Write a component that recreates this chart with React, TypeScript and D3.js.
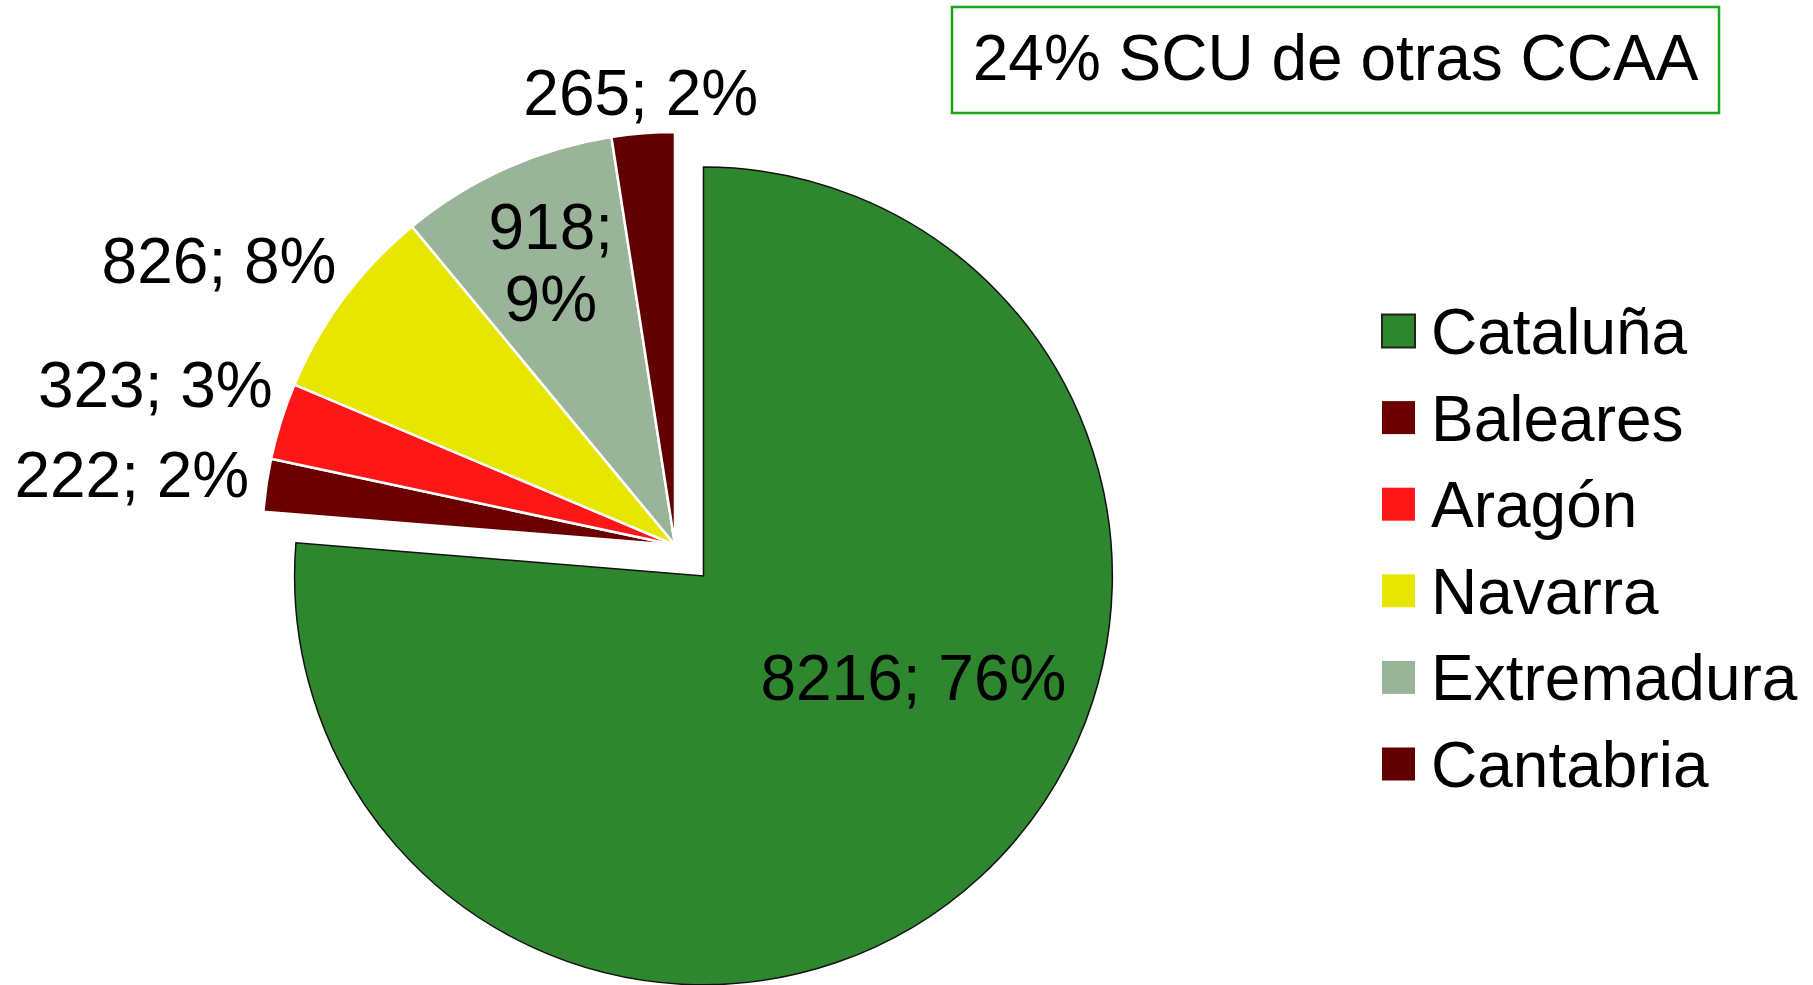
import React from "react";
import * as d3 from "d3";

const categories = ["Cataluña", "Baleares", "Aragón", "Navarra", "Extremadura", "Cantabria"];
const values = [8216, 222, 323, 826, 918, 265];
const colors = ["#2E862E", "#6B0000", "#FF1717", "#E6E600", "#9AB49A", "#600000"];
const strokes = ["#111111", "#ffffff", "#ffffff", "#ffffff", "#ffffff", "#ffffff"];
const explode = [42, 0, 0, 0, 0, 0];
const radiusScale = [0.99, 1, 1, 1, 1, 1];
// label placement: radius factor and angle shift (deg) from slice bisector
const labelRadius = [0.567, 1.333, 1.324, 1.309, 0.752, 1.105];
const labelShift = [-21.6, -0.85, -0.2, -4.6, 0.5, 0.1];
const labelLines = [["8216; 76%"], ["222; 2%"], ["323; 3%"], ["826; 8%"], ["918;", "9%"], ["265; 2%"]];
const titleText = "24% SCU de otras CCAA";

const W = 1813;
const H = 985;
const cx = 675;
const cy = 545;
const R = 413;
const FONT = "'Liberation Sans', Arial, sans-serif";
const FS = 64;

export default function App() {
  const pie = d3.pie<number>().sort(null).value((d) => d)(values);
  const legendY = d3.scaleLinear().domain([0, 1]).range([331, 417.6]);

  return (
    <svg width={W} height={H} style={{ position: "absolute", left: 0, top: 0, background: "#fff" }}>
      <g transform={`translate(${cx},${cy})`}>
        {pie.map((p, i) => {
          const mid = (p.startAngle + p.endAngle) / 2;
          const ox = Math.sin(mid) * explode[i];
          const oy = -Math.cos(mid) * explode[i];
          const arc = d3.arc<d3.PieArcDatum<number>>().innerRadius(0).outerRadius(R * radiusScale[i]);
          return (
            <path
              key={i}
              d={arc(p) || ""}
              transform={`translate(${ox},${oy})`}
              fill={colors[i]}
              stroke={strokes[i]}
              strokeWidth={i === 0 ? 1.5 : 2.5}
              strokeLinejoin="miter"
            />
          );
        })}
        {pie.map((p, i) => {
          const mid = (p.startAngle + p.endAngle) / 2;
          const ox = Math.sin(mid) * explode[i];
          const oy = -Math.cos(mid) * explode[i];
          const a = mid + (labelShift[i] * Math.PI) / 180;
          const r = 411 * labelRadius[i];
          const lx = ox + Math.sin(a) * r;
          const ly = oy - Math.cos(a) * r;
          const lines = labelLines[i];
          const lh = 72.5;
          return (
            <text key={"l" + i} x={lx} y={ly} textAnchor="middle" fontFamily={FONT} fontSize={FS} fill="#000">
              {lines.map((ln, j) => (
                <tspan key={j} x={lx} y={ly + (j - (lines.length - 1) / 2) * lh} dy="0.36em">
                  {ln}
                </tspan>
              ))}
            </text>
          );
        })}
      </g>
      <rect x={952} y={7} width={767} height={106} fill="#fff" stroke="#19A619" strokeWidth={2.5} />
      <text x={1335.5} y={57} dy="0.36em" textAnchor="middle" fontFamily={FONT} fontSize={FS} fill="#000">
        {titleText}
      </text>
      {categories.map((c, i) => (
        <g key={c} transform={`translate(0,${legendY(i)})`}>
          <rect x={1382} y={-16.5} width={33} height={33} fill={colors[i]} stroke={i === 0 ? "#222" : colors[i]} strokeWidth={i === 0 ? 2 : 0} />
          <text x={1431} y={0} dy="0.36em" fontFamily={FONT} fontSize={FS} fill="#000">
            {c}
          </text>
        </g>
      ))}
    </svg>
  );
}
